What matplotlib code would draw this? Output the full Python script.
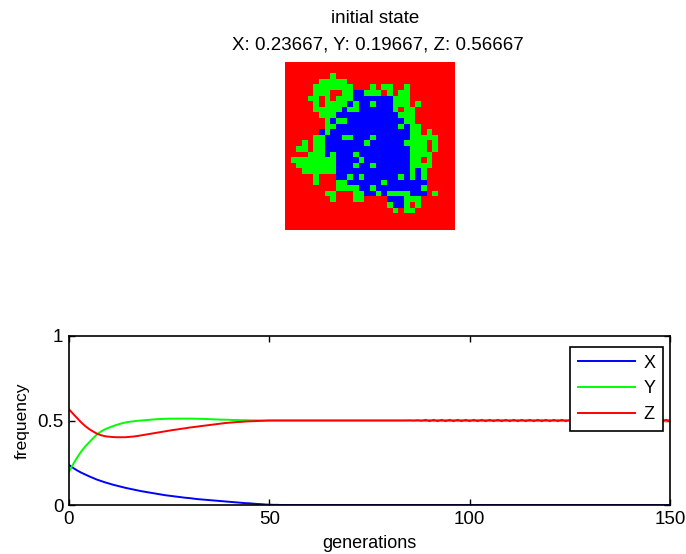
import numpy as np
import matplotlib
matplotlib.use('Agg')
import matplotlib.pyplot as plt
from matplotlib.colors import ListedColormap

plt.rcParams['font.family'] = ['Liberation Sans', 'DejaVu Sans']

# ---------------- data ----------------
TITLE_LINE1 = 'initial state'
TITLE_LINE2 = 'X: 0.23667, Y: 0.19667, Z: 0.56667'

# 30 x 30 lattice: 'b' = X (blue), 'g' = Y (green), '.' = Z (red)
GRID_ROWS = [
    "..............................",
    "..............................",
    "........g.....................",
    "......ggggg...................",
    ".....ggggggg...g.gg..g........",
    ".....ggg..ggbbggg.g.gg........",
    "....gg.g.gggbbbbbbbggg........",
    ".....g.ggggbgbbgbbbggg.g......",
    ".....gggggbggbbbbbbg.gg.......",
    "......gggbbbbbbbbbbbggg.......",
    ".......gbggbbbbbbbbbbgg.......",
    ".......ggbbbbbbbbbbbgbgg......",
    "......bgbbbbbbbbbbbbbbgg.g....",
    ".....ggbbbggbbbgbbbbbbggggg...",
    "...g.ggbbbbbbbgbbbbbbgggg.g...",
    "..gg.ggbbbbbbbbbbbbbbbggg.g...",
    "....gggbgbbbgbbbbbbbbbgggg....",
    ".ggggggggbbbbgbbbbbbbbgg.g....",
    "..gggggggbbbgbbgbbbbbbgggg....",
    "...ggggggbbbbbbbbbbbbbgbg.....",
    ".....g...bbgbgbbbbbbgbgbg.....",
    ".....g...ggbbbbbbgbbbbbbb.....",
    ".........ggggbbgbbbbbbbbg.....",
    ".......gg...ggbbgbggggbbb.g...",
    "........g...gg....bbbggg......",
    "..................gbbg.g......",
    "...................g.gg.......",
    "..............................",
    "..............................",
    "..............................",
]
STATE_CODES = {'b': 0, 'g': 1, '.': 2}
STATE_COLORS = ['#0000ff', '#00ff00', '#ff0000']

GENERATIONS = list(range(151))

X_FREQ = [
    0.237, 0.220, 0.205, 0.192, 0.181, 0.170, 0.160, 0.150, 0.142, 0.134,
    0.127, 0.120, 0.114, 0.108, 0.102, 0.097, 0.092, 0.087, 0.082, 0.078,
    0.074, 0.070, 0.066, 0.062, 0.058, 0.055, 0.052, 0.049, 0.046, 0.043,
    0.041, 0.038, 0.035, 0.033, 0.031, 0.029, 0.027, 0.025, 0.023, 0.021,
    0.019, 0.017, 0.015, 0.013, 0.011, 0.010, 0.008, 0.006, 0.005, 0.003,
    0.002, 0.001, 0.001, 0, 0, 0, 0, 0, 0, 0,
    0, 0, 0, 0, 0, 0, 0, 0, 0, 0,
    0, 0, 0, 0, 0, 0, 0, 0, 0, 0,
    0, 0, 0, 0, 0, 0, 0, 0, 0, 0,
    0, 0, 0, 0, 0, 0, 0, 0, 0, 0,
    0, 0, 0, 0, 0, 0, 0, 0, 0, 0,
    0, 0, 0, 0, 0, 0, 0, 0, 0, 0,
    0, 0, 0, 0, 0, 0, 0, 0, 0, 0,
    0, 0, 0, 0, 0, 0, 0, 0, 0, 0,
    0, 0, 0, 0, 0, 0, 0, 0, 0, 0,
    0,
]

Y_FREQ = [
    0.197, 0.240, 0.280, 0.315, 0.345, 0.370, 0.395, 0.418, 0.435, 0.448,
    0.458, 0.467, 0.475, 0.482, 0.488, 0.492, 0.495, 0.498, 0.500, 0.502,
    0.504, 0.506, 0.508, 0.509, 0.510, 0.511, 0.511, 0.511, 0.511, 0.511,
    0.511, 0.511, 0.510, 0.510, 0.509, 0.508, 0.507, 0.506, 0.505, 0.505,
    0.504, 0.503, 0.503, 0.502, 0.502, 0.501, 0.501, 0.501, 0.500, 0.500,
    0.500, 0.500, 0.500, 0.500, 0.500, 0.500, 0.500, 0.500, 0.500, 0.500,
    0.500, 0.500, 0.500, 0.500, 0.500, 0.500, 0.500, 0.500, 0.500, 0.500,
    0.500, 0.500, 0.500, 0.500, 0.500, 0.500, 0.500, 0.500, 0.500, 0.500,
    0.500, 0.500, 0.500, 0.500, 0.500, 0.499, 0.501, 0.498, 0.502, 0.496,
    0.504, 0.496, 0.504, 0.496, 0.504, 0.496, 0.504, 0.496, 0.504, 0.496,
    0.504, 0.496, 0.504, 0.496, 0.504, 0.496, 0.504, 0.496, 0.504, 0.496,
    0.504, 0.496, 0.504, 0.496, 0.504, 0.496, 0.504, 0.496, 0.504, 0.496,
    0.504, 0.496, 0.504, 0.496, 0.504, 0.496, 0.504, 0.496, 0.504, 0.496,
    0.504, 0.496, 0.504, 0.496, 0.504, 0.496, 0.504, 0.496, 0.504, 0.496,
    0.504, 0.496, 0.504, 0.496, 0.504, 0.496, 0.504, 0.496, 0.504, 0.496,
    0.504,
]

Z_FREQ = [
    0.566, 0.540, 0.515, 0.490, 0.468, 0.450, 0.435, 0.422, 0.413, 0.407,
    0.404, 0.402, 0.401, 0.401, 0.401, 0.403, 0.405, 0.408, 0.412, 0.416,
    0.420, 0.424, 0.428, 0.432, 0.436, 0.440, 0.444, 0.447, 0.451, 0.454,
    0.458, 0.461, 0.464, 0.467, 0.470, 0.473, 0.476, 0.479, 0.482, 0.485,
    0.487, 0.489, 0.491, 0.492, 0.494, 0.495, 0.496, 0.497, 0.498, 0.499,
    0.500, 0.500, 0.500, 0.500, 0.500, 0.500, 0.500, 0.500, 0.500, 0.500,
    0.500, 0.500, 0.500, 0.500, 0.500, 0.500, 0.500, 0.500, 0.500, 0.500,
    0.500, 0.500, 0.500, 0.500, 0.500, 0.500, 0.500, 0.500, 0.500, 0.500,
    0.500, 0.500, 0.500, 0.500, 0.500, 0.501, 0.499, 0.502, 0.498, 0.504,
    0.496, 0.504, 0.496, 0.504, 0.496, 0.504, 0.496, 0.504, 0.496, 0.504,
    0.496, 0.504, 0.496, 0.504, 0.496, 0.504, 0.496, 0.504, 0.496, 0.504,
    0.496, 0.504, 0.496, 0.504, 0.496, 0.504, 0.496, 0.504, 0.496, 0.504,
    0.496, 0.504, 0.496, 0.504, 0.496, 0.504, 0.496, 0.504, 0.496, 0.504,
    0.496, 0.504, 0.496, 0.504, 0.496, 0.504, 0.496, 0.504, 0.496, 0.504,
    0.496, 0.504, 0.496, 0.504, 0.496, 0.504, 0.496, 0.504, 0.496, 0.504,
    0.496,
]

SERIES_LABELS = ['X', 'Y', 'Z']
SERIES_COLORS = ['#0000ff', '#00ff00', '#ff0000']
X_TICKS = [0, 50, 100, 150]
Y_TICKS = [0, 0.5, 1]
Y_TICK_LABELS = ['0', '0.5', '1']

# ---------------- figure ----------------
W, H = 686, 554
fig = plt.figure(figsize=(W / 100, H / 100), dpi=100)
fig.patch.set_facecolor('white')

# lattice image
ax_img = fig.add_axes([285 / W, 1 - 230 / H, 170 / W, 168 / H])
grid = np.array([[STATE_CODES[c] for c in row.ljust(30, '.')[:30]] for row in GRID_ROWS])
ax_img.imshow(grid, cmap=ListedColormap(STATE_COLORS), vmin=0, vmax=2,
              interpolation='nearest', aspect='auto')
ax_img.axis('off')

fig.text(375 / W, 1 - 23 / H, TITLE_LINE1, ha='center', va='baseline', fontsize=13.5)
fig.text(378 / W, 1 - 49 / H, TITLE_LINE2, ha='center', va='baseline', fontsize=13.5)

# frequency plot
ax = fig.add_axes([69 / W, 1 - 505 / H, 601 / W, 169 / H])
for vals, lab, col in zip([X_FREQ, Y_FREQ, Z_FREQ], SERIES_LABELS, SERIES_COLORS):
    ax.plot(GENERATIONS, vals, color=col, lw=1.4, label=lab)
ax.set_xlim(0, 150)
ax.set_ylim(0, 1)
ax.set_xticks(X_TICKS)
ax.set_xticklabels([str(t) for t in X_TICKS])
ax.set_yticks(Y_TICKS)
ax.set_yticklabels(Y_TICK_LABELS)
ax.tick_params(direction='in', length=4.5, width=1.0, top=True, right=True,
               labelsize=13.5, pad=4)
for s in ax.spines.values():
    s.set_linewidth(1.2)
ax.set_xlabel('generations', fontsize=13, labelpad=5)
ax.set_ylabel('frequency', fontsize=12.5, labelpad=5)

leg = ax.legend(loc='upper right', bbox_to_anchor=(663 / W, 1 - 347 / H),
                bbox_transform=fig.transFigure, fontsize=13, frameon=True,
                fancybox=False, edgecolor='black', framealpha=1,
                handlelength=3.2, handletextpad=0.45, labelspacing=0.48,
                borderpad=0.42, borderaxespad=0)
leg.get_frame().set_linewidth(1.2)

fig.savefig('out.png', dpi=100)
